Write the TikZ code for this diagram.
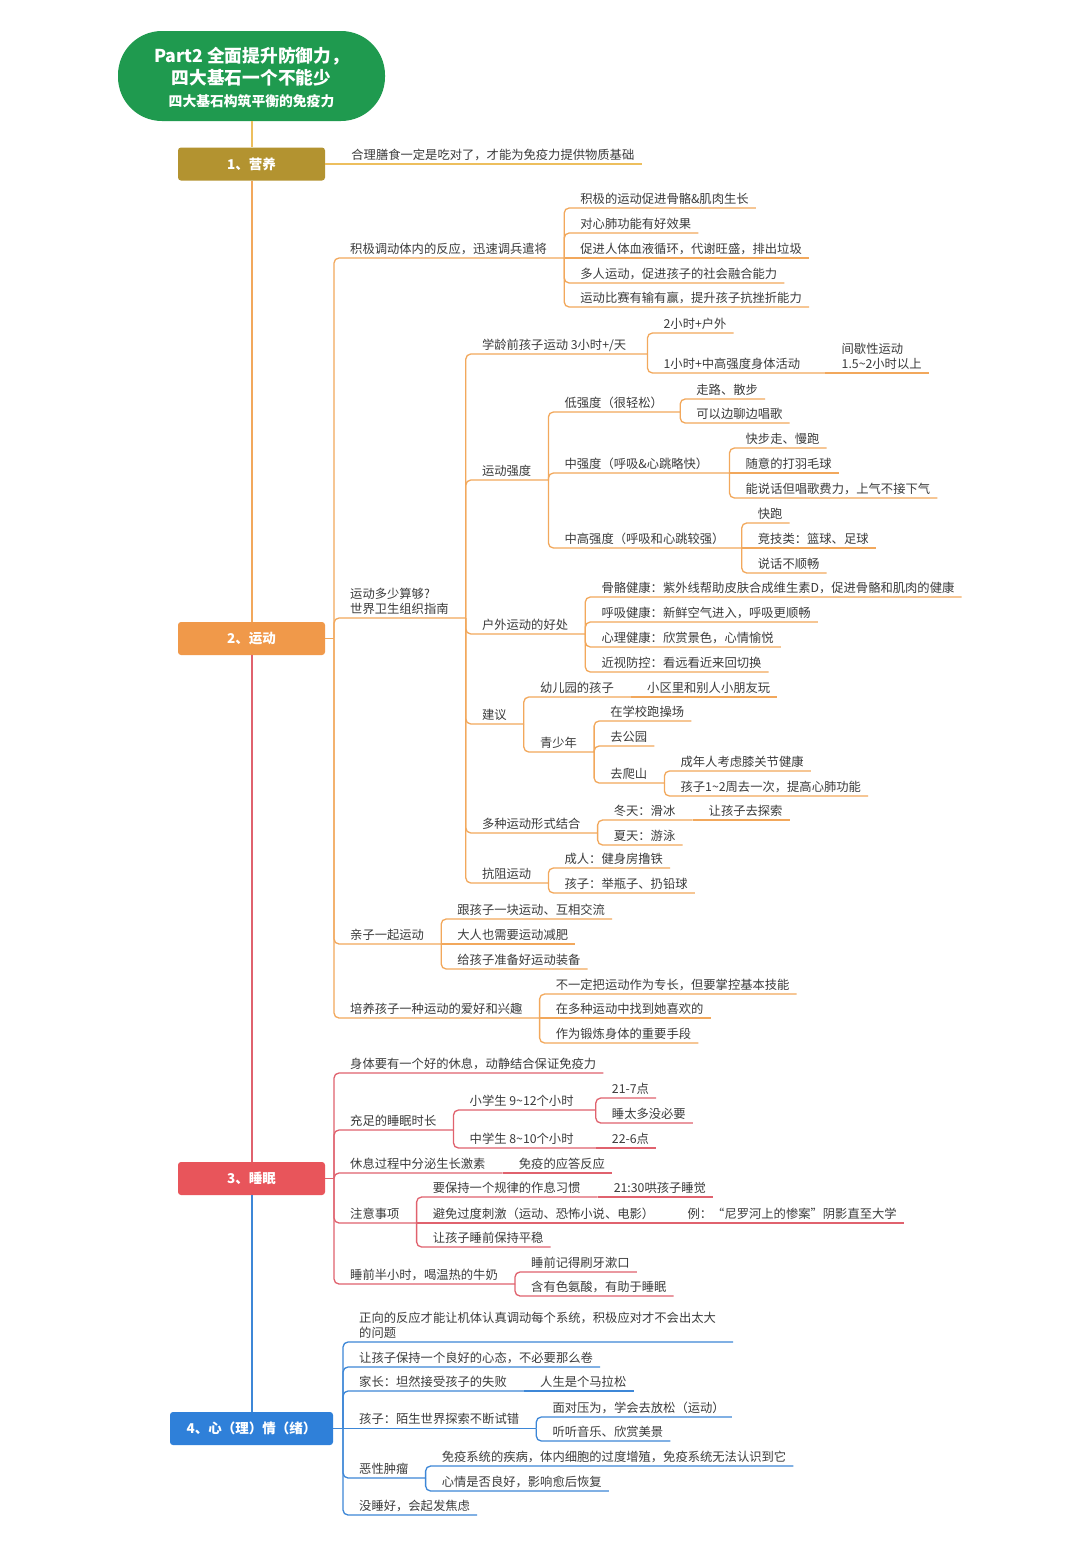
\documentclass[tikz,border=0pt]{standalone}
\usepackage{fontspec}
\setmainfont{Noto Sans CJK SC}
\usetikzlibrary{calc}
\definecolor{txt}{HTML}{3B3B3B}
\definecolor{rootg}{HTML}{1F9A4F}
\definecolor{box1}{HTML}{B39330}
\definecolor{box2}{HTML}{F0994A}
\definecolor{box3}{HTML}{E8555B}
\definecolor{box4}{HTML}{2F80D9}
\definecolor{ln1}{HTML}{EDBF5E}
\definecolor{ln2}{HTML}{F2A85C}
\definecolor{ln3}{HTML}{E0626E}
\definecolor{ln4}{HTML}{3D87D7}
\newcommand\mltext[1]{\begin{tabular}[b]{@{}l@{}}#1\end{tabular}}
\newcommand\mmnode[6]{%
  \pgfmathsetmacro\mmyb{#5-5}%
  \node[mmtext] (#3) at ($(#4 |- 0,\mmyb)+(#1,0)$) {#6};%
  \coordinate (#3-e) at ($(#3.base east |- 0,#5)+(#2,0)$);%
}
\newcommand\mmbend[2]{\draw[mmline,rounded corners=5pt] (#1) |- (#2-e);}
\newcommand\mmflat[2]{\draw[mmline] (#1) -- (#2-e);}
\newcommand\mmLB[4]{\mmnode{16}{7}{#1}{#2}{#3}{#4}\mmbend{#2}{#1}}
\newcommand\mmPB[4]{\mmnode{16}{17}{#1}{#2}{#3}{#4}\mmbend{#2}{#1}}
\newcommand\mmLF[4]{\mmnode{16}{7}{#1}{#2}{#3}{#4}\mmflat{#2}{#1}}
\newcommand\mmPF[4]{\mmnode{16}{17}{#1}{#2}{#3}{#4}\mmflat{#2}{#1}}
\newcommand\tl{\textasciitilde}
\begin{document}
\begin{tikzpicture}[x=1pt,y=-1pt,
  mmtext/.style={anchor=base west,inner sep=0pt,text=txt,font=\fontsize{12.3}{15}\selectfont},
  catbox/.style={rounded corners=3pt,text=white,font=\fontsize{13.5}{16}\selectfont\bfseries,
    minimum width=147pt,minimum height=33pt,inner sep=0pt},
  trunk/.style={line width=2pt}]
\fill[white] (0,0) rectangle (1080,1547);
\useasboundingbox (0,0) rectangle (1080,1547);

% root
\node[fill=rootg,rounded corners=44pt,minimum width=267pt,minimum height=90pt,inner sep=0pt] (root) at (251.5,76) {};
\node[text=white,inner sep=0pt,font=\fontsize{17.7}{22}\selectfont] (roottext) at (251.5,80)
  {\begin{tabular}{@{}c@{}}\bfseries Part2 全面提升防御力，\\ \bfseries 四大基石一个不能少\\ \fontsize{13.8}{22}\selectfont\bfseries 四大基石构筑平衡的免疫力\end{tabular}};

% category boxes
\node[catbox,fill=box1] (b1) at (251.5,164) {1、营养};
\node[catbox,fill=box2] (b2) at (251.5,638.5) {2、运动};
\node[catbox,fill=box3] (b3) at (251.5,1178.5) {3、睡眠};
\node[catbox,fill=box4,minimum width=163pt] (b4) at (251.5,1428.5) {4、心（理）情（绪）};

% trunk
\draw[trunk,ln1] (root.south) -- (b1.north);
\draw[trunk,ln2] (b1.south) -- (b2.north);
\draw[trunk,ln3] (b2.south) -- (b3.north);
\draw[trunk,ln4] (b3.south) -- (b4.north);

% ---------- section 1
\begin{scope}[mmline/.style={draw=ln1,line width=1.3pt}]
\mmnode{26}{7}{N1}{b1.east}{164}{合理膳食一定是吃对了，才能为免疫力提供物质基础}
\draw[mmline] (b1.east) -- (N1-e);
\end{scope}

% ---------- section 2
\begin{scope}[mmline/.style={draw=ln2,line width=1.3pt}]
\coordinate (b2j) at (334,638.5);
\draw[mmline] (b2.east) -- (b2j);
\mmPB{A}{b2j}{258}{积极调动体内的反应，迅速调兵遣将}
\mmLB{A1}{A-e}{208}{积极的运动促进骨骼\&肌肉生长}
\mmLB{A2}{A-e}{233}{对心肺功能有好效果}
\mmLF{A3}{A-e}{258}{促进人体血液循环，代谢旺盛，排出垃圾}
\mmLB{A4}{A-e}{283}{多人运动，促进孩子的社会融合能力}
\mmLB{A5}{A-e}{307}{运动比赛有输有赢，提升孩子抗挫折能力}

\mmPB{B}{b2j}{618}{\mltext{运动多少算够?\\世界卫生组织指南}}
\mmnode{16}{21}{B1}{B-e}{354}{学龄前孩子运动 3小时+/天}\mmbend{B-e}{B1}
\mmLB{B1a}{B1-e}{333}{2小时+户外}
\mmnode{16}{25}{B1b}{B1-e}{373}{1小时+中高强度身体活动}\mmbend{B1-e}{B1b}
\mmLF{B1b1}{B1b-e}{373}{\mltext{间歇性运动\\1.5\tl2小时以上}}
\mmPB{B2}{B-e}{480}{运动强度}
\mmPB{B2a}{B2-e}{412}{低强度（很轻松）}
\mmLB{B2a1}{B2a-e}{399}{走路、散步}
\mmLB{B2a2}{B2a-e}{423}{可以边聊边唱歌}
\mmnode{16}{21}{B2b}{B2-e}{473}{中强度（呼吸\&心跳略快）}\mmbend{B2-e}{B2b}
\mmLB{B2b1}{B2b-e}{448}{快步走、慢跑}
\mmLF{B2b2}{B2b-e}{473}{随意的打羽毛球}
\mmLB{B2b3}{B2b-e}{498}{能说话但唱歌费力，上气不接下气}
\mmPB{B2c}{B2-e}{548}{中高强度（呼吸和心跳较强）}
\mmLB{B2c1}{B2c-e}{523}{快跑}
\mmLF{B2c2}{B2c-e}{548}{竞技类：篮球、足球}
\mmLB{B2c3}{B2c-e}{573}{说话不顺畅}
\mmPB{B3}{B-e}{634}{户外运动的好处}
\mmLB{B3a}{B3-e}{597}{骨骼健康：紫外线帮助皮肤合成维生素D，促进骨骼和肌肉的健康}
\mmLB{B3b}{B3-e}{622}{呼吸健康：新鲜空气进入，呼吸更顺畅}
\mmLB{B3c}{B3-e}{647}{心理健康：欣赏景色，心情愉悦}
\mmLB{B3d}{B3-e}{672}{近视防控：看远看近来回切换}
\mmPB{B4}{B-e}{724}{建议}
\mmPB{B4a}{B4-e}{697}{幼儿园的孩子}
\mmLF{B4a1}{B4a-e}{697}{小区里和别人小朋友玩}
\mmPB{B4b}{B4-e}{752}{青少年}
\mmLB{B4b1}{B4b-e}{721}{在学校跑操场}
\mmLB{B4b2}{B4b-e}{746}{去公园}
\mmPB{B4b3}{B4b-e}{783}{去爬山}
\mmLB{B4b3a}{B4b3-e}{771}{成年人考虑膝关节健康}
\mmLB{B4b3b}{B4b3-e}{796}{孩子1\tl2周去一次，提高心肺功能}
\mmPB{B5}{B-e}{833}{多种运动形式结合}
\mmPB{B5a}{B5-e}{820}{冬天：滑冰}
\mmLF{B5a1}{B5a-e}{820}{让孩子去探索}
\mmLB{B5b}{B5-e}{845}{夏天：游泳}
\mmPB{B6}{B-e}{883}{抗阻运动}
\mmLB{B6a}{B6-e}{868}{成人：健身房撸铁}
\mmLB{B6b}{B6-e}{893}{孩子：举瓶子、扔铅球}

\mmPB{C}{b2j}{944}{亲子一起运动}
\mmLB{C1}{C-e}{919}{跟孩子一块运动、互相交流}
\mmLF{C2}{C-e}{944}{大人也需要运动减肥}
\mmLB{C3}{C-e}{969}{给孩子准备好运动装备}

\mmPB{D}{b2j}{1018}{培养孩子一种运动的爱好和兴趣}
\mmLB{D1}{D-e}{994}{不一定把运动作为专长，但要掌控基本技能}
\mmLF{D2}{D-e}{1018}{在多种运动中找到她喜欢的}
\mmLB{D3}{D-e}{1043}{作为锻炼身体的重要手段}
\end{scope}

% ---------- section 3
\begin{scope}[mmline/.style={draw=ln3,line width=1.3pt}]
\coordinate (b3j) at (334,1178.5);
\draw[mmline] (b3.east) -- (b3j);
\mmLB{E1}{b3j}{1073}{身体要有一个好的休息，动静结合保证免疫力}
\mmPB{E2}{b3j}{1130}{充足的睡眠时长}
\mmnode{16}{22}{E2a}{E2-e}{1110}{小学生 9\tl12个小时}\mmbend{E2-e}{E2a}
\mmLB{E2a1}{E2a-e}{1098}{21-7点}
\mmLB{E2a2}{E2a-e}{1123}{睡太多没必要}
\mmnode{16}{22}{E2b}{E2-e}{1148}{中学生 8\tl10个小时}\mmbend{E2-e}{E2b}
\mmLF{E2b1}{E2b-e}{1148}{22-6点}
\mmPB{E3}{b3j}{1173}{休息过程中分泌生长激素}
\mmLF{E3a}{E3-e}{1173}{免疫的应答反应}
\mmPB{E4}{b3j}{1223}{注意事项}
\mmPB{E4a}{E4-e}{1197}{要保持一个规律的作息习惯}
\mmLF{E4a1}{E4a-e}{1197}{21:30哄孩子睡觉}
\mmPF{E4b}{E4-e}{1223}{避免过度刺激（运动、恐怖小说、电影）}
\mmLF{E4b1}{E4b-e}{1223}{例：“尼罗河上的惨案”阴影直至大学}
\mmLB{E4c}{E4-e}{1247}{让孩子睡前保持平稳}
\mmPB{E5}{b3j}{1284}{睡前半小时，喝温热的牛奶}
\mmLB{E5a}{E5-e}{1272}{睡前记得刷牙漱口}
\mmLB{E5b}{E5-e}{1296}{含有色氨酸，有助于睡眠}
\end{scope}

% ---------- section 4
\begin{scope}[mmline/.style={draw=ln4,line width=1.3pt}]
\coordinate (b4j) at (343,1428.5);
\draw[mmline] (b4.east) -- (b4j);
\mmPB{F1}{b4j}{1342}{\mltext{正向的反应才能让机体认真调动每个系统，积极应对才不会出太大\\的问题}}
\mmLB{F2}{b4j}{1367}{让孩子保持一个良好的心态，不必要那么卷}
\mmPB{F3}{b4j}{1391}{家长：坦然接受孩子的失败}
\mmLF{F3a}{F3-e}{1391}{人生是个马拉松}
\mmPF{F4}{b4j}{1428.5}{孩子：陌生世界探索不断试错}
\mmLB{F4a}{F4-e}{1417}{面对压为，学会去放松（运动）}
\mmLB{F4b}{F4-e}{1441}{听听音乐、欣赏美景}
\mmPB{F5}{b4j}{1478}{恶性肿瘤}
\mmLB{F5a}{F5-e}{1466}{免疫系统的疾病，体内细胞的过度增殖，免疫系统无法认识到它}
\mmLB{F5b}{F5-e}{1491}{心情是否良好，影响愈后恢复}
\mmLB{F6}{b4j}{1515}{没睡好，会起发焦虑}
\end{scope}
\end{tikzpicture}
\end{document}
